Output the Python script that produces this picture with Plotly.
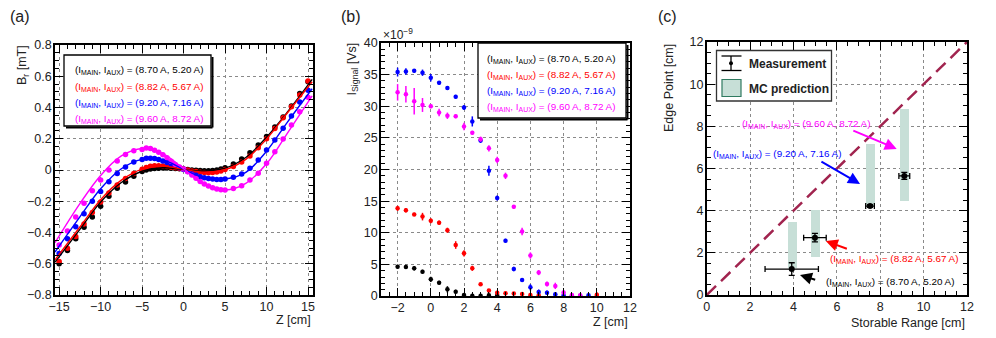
import plotly.graph_objects as go

# ---------------- Panel (a) data ----------------
z_a = [-15, -14, -13, -12, -11, -10, -9, -8, -7, -6,
       -5, -4.5, -4, -3.5, -3, -2.5, -2, -1.5, -1, -0.5, 0, 0.5, 1, 1.5, 2, 2.5, 3, 3.5, 4, 4.5, 5,
       6, 7, 8, 9, 10, 11, 12, 13, 14, 15]
br_black = [-0.60, -0.515, -0.44, -0.367, -0.30, -0.232, -0.168, -0.117, -0.076, -0.04,
            -0.01, 0.0, 0.006, 0.01, 0.012, 0.013, 0.013, 0.012, 0.01, 0.008, 0.006, 0.003, 0.0, -0.002,
            -0.003, -0.004, -0.004, -0.003, 0.0, 0.006, 0.014,
            0.038, 0.07, 0.11, 0.16, 0.215, 0.275, 0.34, 0.41, 0.49, 0.565]
br_red = [-0.585, -0.50, -0.425, -0.345, -0.272, -0.205, -0.147, -0.096, -0.055, -0.022,
          0.005, 0.016, 0.024, 0.028, 0.028, 0.026, 0.022, 0.018, 0.014, 0.01, 0.005, 0.0, -0.006, -0.01,
          -0.014, -0.016, -0.017, -0.016, -0.012, -0.006, 0.004,
          0.022, 0.052, 0.09, 0.143, 0.2, 0.265, 0.335, 0.405, 0.48, 0.57]
br_blue = [-0.535, -0.44, -0.363, -0.28, -0.2, -0.137, -0.075, -0.022, 0.02, 0.052,
           0.068, 0.075, 0.076, 0.073, 0.068, 0.058, 0.048, 0.038, 0.026, 0.015, 0.003, -0.01, -0.022, -0.034,
           -0.043, -0.05, -0.054, -0.058, -0.06, -0.06, -0.058,
           -0.046, -0.025, 0.012, 0.064, 0.128, 0.192, 0.267, 0.345, 0.435, 0.51]
br_magenta = [-0.48, -0.39, -0.30, -0.213, -0.132, -0.064, 0.0, 0.058, 0.1, 0.124,
              0.132, 0.141, 0.138, 0.127, 0.113, 0.097, 0.078, 0.056, 0.036, 0.019, 0.006, -0.011, -0.032, -0.053,
              -0.073, -0.09, -0.102, -0.113, -0.121, -0.126, -0.128,
              -0.118, -0.1, -0.064, -0.021, 0.043, 0.117, 0.198, 0.288, 0.373, 0.465]

z_fit = [-15.5, -12.5, -10, -7.5, -5, -2.5, 0, 2.5, 5, 7.5, 10, 12.5, 15.5]
fit_black = [-0.59, -0.38, -0.205, -0.08, -0.008, 0.014, 0.003, -0.006, 0.012, 0.08, 0.21, 0.37, 0.58]
fit_red = [-0.575, -0.365, -0.19, -0.065, 0.006, 0.025, 0.004, -0.014, 0.002, 0.068, 0.198, 0.365, 0.565]
fit_blue = [-0.525, -0.30, -0.12, 0.008, 0.068, 0.065, 0.005, -0.05, -0.058, -0.015, 0.12, 0.305, 0.52]
fit_magenta = [-0.465, -0.215, -0.035, 0.09, 0.138, 0.105, 0.008, -0.095, -0.128, -0.085, 0.04, 0.235, 0.475]

# ---------------- Panel (b) data ----------------
z_black_b = [-2, -1.5, -1, -0.5, 0, 0.5, 1, 1.5, 2, 2.5, 3, 3.5, 4]
sig_black = [4.64, 4.6, 4.4, 3.85, 2.63, 2.1, 1.05, 0.69, 0.15, 0.05, 0.05, 0.1, 0.1]
err_black = [0.3, 0.35, 0.35, 0.3, 0.4, 0.3, 0.5, 0.3, 0.2, 0.15, 0.15, 0.15, 0.15]

z_red_b = [-2, -1.5, -1, -0.5, 0, 0.5, 1, 1.5, 2, 2.5, 3, 3.5, 4, 4.5, 5, 5.5, 6, 6.5, 10]
sig_red = [13.86, 13.55, 12.9, 12.55, 11.9, 11.6, 10.4, 8.06, 6.74, 4.38, 1.84, 0.85, 0.53, 0.43, 0.4,
           0.33, 0.15, 0.1, 0.2]
err_red = [0.4, 0.35, 0.25, 0.6, 0.4, 0.35, 0.4, 0.6, 0.5, 0.4, 0.25, 0.25, 0.3, 0.3, 0.25, 0.3, 0.35, 0.3, 0.4]

z_blue_b = [-2, -1.5, -1, -0.5, 0, 0.5, 1, 1.5, 2, 2.5, 3, 3.5, 4, 4.5, 5, 5.5, 6, 6.5, 7, 7.5, 8, 8.5, 9, 9.5]
sig_blue = [35.4, 35.5, 35.6, 35.3, 34.5, 33.7, 32.9, 31.5, 29.8, 27.6, 24.6, 19.8, 15.5, 8.75, 4.27, 2.53,
            1.37, 0.63, 0.53, 0.26, 0.1, 0.05, 0.05, 0.1]
err_blue = [0.7, 0.5, 0.3, 0.5, 0.6, 0.3, 0.3, 0.3, 0.4, 0.8, 0.4, 0.8, 0.4, 0.3, 0.35, 0.3, 0.5, 0.4,
            0.35, 0.3, 0.2, 0.15, 0.15, 0.2]

z_mag_b = [-2, -1.5, -1, -0.5, 0, 0.5, 1, 1.5, 2, 2.5, 3, 3.5, 4, 4.5, 5, 5.5, 6, 6.5, 7, 7.5, 8, 8.5, 9]
sig_mag = [32.2, 31.9, 30.8, 30.2, 30.0, 29.0, 28.5, 28.4, 26.8, 25.8, 24.8, 23.35, 21.5, 19.0, 14.1, 10.2,
           6.4, 3.7, 1.9, 1.6, 0.55, 0.15, 0.1]
err_mag = [1.3, 1.3, 2.1, 1.1, 0.3, 0.6, 0.5, 0.3, 0.6, 0.3, 0.4, 0.5, 0.5, 0.5, 0.3, 0.6, 0.5, 0.4, 0.4,
           0.5, 0.4, 0.2, 0.2]

# ---------------- Panel (c) data ----------------
range_meas = [3.92, 4.99, 7.53, 9.11]
range_err = [1.23, 0.52, 0.2, 0.25]
edge_meas = [1.23, 2.72, 4.22, 5.65]
edge_err = [0.3, 0.2, 0.06, 0.17]
mc_x = [3.93, 5.0, 7.53, 9.12]
mc_low = [1.3, 1.8, 4.2, 4.45]
mc_high = [3.45, 4.05, 7.15, 8.8]
diag = [0, 12]

labels = ["(I<sub>MAIN</sub>, I<sub>AUX</sub>) = (8.70 A, 5.20 A)",
          "(I<sub>MAIN</sub>, I<sub>AUX</sub>) = (8.82 A, 5.67 A)",
          "(I<sub>MAIN</sub>, I<sub>AUX</sub>) = (9.20 A, 7.16 A)",
          "(I<sub>MAIN</sub>, I<sub>AUX</sub>) = (9.60 A, 8.72 A)"]
colors = ["#000000", "#ff0000", "#0000ff", "#ff00ff"]

FONT = "Liberation Sans, Arial, sans-serif"
# the page body has an 8px margin: the figure is sized/placed to compensate
OFF = 8
W, H = 996 - OFF, 338 - OFF


def px(x):
    return (x - OFF) / W


def py(y):
    return 1 - (y - OFF) / H


fig = go.Figure()

# Panel (a)
for yy, c in zip([br_black, br_red, br_blue, br_magenta], colors):
    fig.add_trace(go.Scatter(x=z_a, y=yy, mode="markers", marker=dict(color=c, size=5.5),
                             error_y=dict(type="constant", value=0.01, color=c, thickness=1.2, width=0),
                             xaxis="x", yaxis="y", showlegend=False))
for yy, c in zip([fit_black, fit_red, fit_blue, fit_magenta], colors):
    fig.add_trace(go.Scatter(x=z_fit, y=yy, mode="lines", line=dict(color=c, width=1.4, shape="spline",
                                                                      smoothing=1.0),
                             xaxis="x", yaxis="y", showlegend=False))

# Panel (b)
for zz, yy, ee, c in [(z_black_b, sig_black, err_black, colors[0]),
                      (z_red_b, sig_red, err_red, colors[1]),
                      (z_blue_b, sig_blue, err_blue, colors[2]),
                      (z_mag_b, sig_mag, err_mag, colors[3])]:
    fig.add_trace(go.Scatter(x=zz, y=yy, mode="markers", marker=dict(color=c, size=4.5),
                             error_y=dict(type="data", array=ee, color=c, thickness=1.5, width=0),
                             error_x=dict(type="constant", value=0.08, color=c, thickness=1, width=0),
                             xaxis="x2", yaxis="y2", showlegend=False))

# Panel (c)
fig.add_trace(go.Bar(x=mc_x, y=[h - l for h, l in zip(mc_high, mc_low)], base=mc_low, width=0.4,
                     marker=dict(color="#c7dfd7", line=dict(width=0)), xaxis="x3", yaxis="y3",
                     showlegend=False))
fig.add_trace(go.Scatter(x=diag, y=diag, mode="lines",
                         line=dict(color="#a1244f", width=2.5, dash="13px,7px"),
                         xaxis="x3", yaxis="y3", showlegend=False))
fig.add_trace(go.Scatter(x=range_meas, y=edge_meas, mode="markers", marker=dict(color="black", size=6),
                         error_x=dict(type="data", array=range_err, color="black", thickness=1.3, width=3),
                         error_y=dict(type="data", array=edge_err, color="black", thickness=1.3, width=3),
                         xaxis="x3", yaxis="y3", showlegend=False))

ax_common = dict(showline=True, linecolor="black", linewidth=1.6, mirror="allticks", ticks="inside",
                 ticklen=8, tickwidth=1.2, tickcolor="black", showgrid=True, gridcolor="#8a8a8a",
                 griddash="dot", gridwidth=1, zeroline=False, automargin=False,
                 tickfont=dict(family=FONT, size=12.5, color="#222"))
xa = dict(ax_common, ticklabelstandoff=-1)
ya = dict(ax_common, ticklabelstandoff=-1)


def mn(d):
    return dict(dtick=d, ticklen=4, ticks="inside", tickcolor="black", showgrid=False)


fig.update_layout(
    width=W, height=H, margin=dict(l=0, r=0, t=0, b=0, autoexpand=False),
    plot_bgcolor="white", paper_bgcolor="white", bargap=0,
    xaxis=dict(domain=[px(55), px(313)], anchor="y", range=[-15.5, 15.6], dtick=5, tick0=0,
               minor=mn(1), **xa),
    yaxis=dict(domain=[py(295), py(45)], anchor="x", range=[-0.8, 0.8], dtick=0.2, tick0=0,
               minor=mn(0.05), **ya),
    xaxis2=dict(domain=[px(381), px(630)], anchor="y2", range=[-3, 12], dtick=2, tick0=0,
                minor=mn(0.5), **xa),
    yaxis2=dict(domain=[py(296), py(43)], anchor="x2", range=[0, 40], dtick=5, tick0=0,
                minor=mn(1), **ya),
    xaxis3=dict(domain=[px(706.7), px(967)], anchor="y3", range=[0, 12], dtick=2, tick0=0,
                minor=mn(0.5), **xa),
    yaxis3=dict(domain=[py(295), py(42)], anchor="x3", range=[0, 12], dtick=2, tick0=0,
                minor=mn(0.5), **ya),
)

ann = []
shapes = []
tf = dict(family=FONT, size=12.5, color="#222")

# Panel letters
for t, x in [("(a)", 8), ("(b)", 339), ("(c)", 656)]:
    ann.append(dict(text=t, x=px(x), y=py(17), xref="paper", yref="paper", xanchor="left",
                    yanchor="middle", showarrow=False, font=dict(family=FONT, size=16, color="#222")))

# Axis titles
ann.append(dict(text="B<sub>r</sub> [mT]", x=px(23), y=py(43), xref="paper", yref="paper",
                textangle=-90, xanchor="center", yanchor="top", showarrow=False, font=tf))
ann.append(dict(text="Z [cm]", x=px(313), y=py(320), xref="paper", yref="paper", xanchor="right",
                yanchor="middle", showarrow=False, font=tf))
ann.append(dict(text="I<sub>Signal</sub> [Vs]", x=px(353), y=py(41), xref="paper", yref="paper",
                textangle=-90, xanchor="center", yanchor="top", showarrow=False, font=tf))
ann.append(dict(text="×10<sup>−9</sup>", x=px(381), y=py(34), xref="paper", yref="paper",
                xanchor="left", yanchor="middle", showarrow=False, font=dict(family=FONT, size=12, color="#222")))
ann.append(dict(text="Z [cm]", x=px(630), y=py(322), xref="paper", yref="paper", xanchor="right",
                yanchor="middle", showarrow=False, font=tf))
ann.append(dict(text="Edge Point [cm]", x=px(669), y=py(42), xref="paper", yref="paper",
                textangle=-90, xanchor="center", yanchor="top", showarrow=False, font=tf))
ann.append(dict(text="Storable Range [cm]", x=px(967), y=py(323), xref="paper", yref="paper",
                xanchor="right", yanchor="middle", showarrow=False, font=tf))

# Legend boxes for (a) and (b)
lf = 9.9
for (x0, y0, x1, y1, tx, tys) in [(64, 55, 211, 126, 72.5, [70, 86.5, 102.5, 119]),
                                  (478, 43, 626, 118, 485, [59.5, 74.5, 90.5, 106.5])]:
    shapes.append(dict(type="rect", xref="paper", yref="paper", x0=px(x0), x1=px(x1), y0=py(y1), y1=py(y0),
                       line=dict(color="black", width=1.3), fillcolor="white", layer="above"))
    shapes.append(dict(type="line", xref="paper", yref="paper", x0=px(x0 + 2), x1=px(x1 + 1.5),
                       y0=py(y1 + 1.5), y1=py(y1 + 1.5), line=dict(color="black", width=2), layer="above"))
    shapes.append(dict(type="line", xref="paper", yref="paper", x0=px(x1 + 1.5), x1=px(x1 + 1.5),
                       y0=py(y0 + 2), y1=py(y1 + 1.5), line=dict(color="black", width=2), layer="above"))
    for lab, c, yy in zip(labels, colors, tys):
        ann.append(dict(text=lab, x=px(tx), y=py(yy), xref="paper", yref="paper", xanchor="left",
                        yanchor="middle", showarrow=False, font=dict(family=FONT, size=lf, color=c)))

# Legend for (c)
shapes.append(dict(type="rect", xref="paper", yref="paper", x0=px(716.5), x1=px(831.5), y0=py(101), y1=py(50.5),
                   line=dict(color="#333", width=1.3), fillcolor="white", layer="above"))
shapes.append(dict(type="line", xref="paper", yref="paper", x0=px(731), x1=px(731), y0=py(70.5), y1=py(56),
                   line=dict(color="black", width=1.3), layer="above"))
for yy in [56, 70.5]:
    shapes.append(dict(type="line", xref="paper", yref="paper", x0=px(721.5), x1=px(741.5), y0=py(yy), y1=py(yy),
                       line=dict(color="black", width=1.3), layer="above"))
shapes.append(dict(type="circle", xref="paper", yref="paper", x0=px(729), x1=px(733), y0=py(65.3), y1=py(61.3),
                   fillcolor="black", line=dict(color="black", width=0), layer="above"))
shapes.append(dict(type="rect", xref="paper", yref="paper", x0=px(722), x1=px(741), y0=py(96.5), y1=py(79.5),
                   fillcolor="#c7dfd7", line=dict(color="#2f7a60", width=1.2), layer="above"))
bf = dict(family=FONT, size=12, color="#222")
ann.append(dict(text="<b>Measurement</b>", x=px(746.5), y=py(64), xref="paper", yref="paper",
                xanchor="left", yanchor="middle", showarrow=False, font=bf))
ann.append(dict(text="<b>MC prediction</b>", x=px(746.5), y=py(89), xref="paper", yref="paper",
                xanchor="left", yanchor="middle", showarrow=False, font=bf))

# Arrows + labels in panel (c)
cf = 9.9
for lab, c, (tx, ty), (ax_, ay_), (hx, hy) in [
        (labels[3], colors[3], (4.58, 8.11), (6.69, 7.83), (8.76, 6.93)),
        (labels[2], colors[2], (3.24, 6.69), (5.22, 6.37), (7.07, 5.27)),
        (labels[1], colors[1], (8.64, 1.71), (6.53, 2.17), (5.49, 2.56)),
        (labels[0], colors[0], (8.45, 0.63), (5.07, 0.7), (4.3, 0.95))]:
    ann.append(dict(text=lab, x=tx, y=ty, xref="x3", yref="y3", xanchor="center", yanchor="middle",
                    showarrow=False, font=dict(family=FONT, size=cf, color=c)))
    ann.append(dict(text="", x=hx, y=hy, xref="x3", yref="y3", ax=ax_, ay=ay_, axref="x3", ayref="y3",
                    showarrow=True, arrowhead=2, arrowsize=1.2, arrowwidth=2, arrowcolor=c))

fig.update_layout(annotations=ann, shapes=shapes)
fig.write_html("out.html")
